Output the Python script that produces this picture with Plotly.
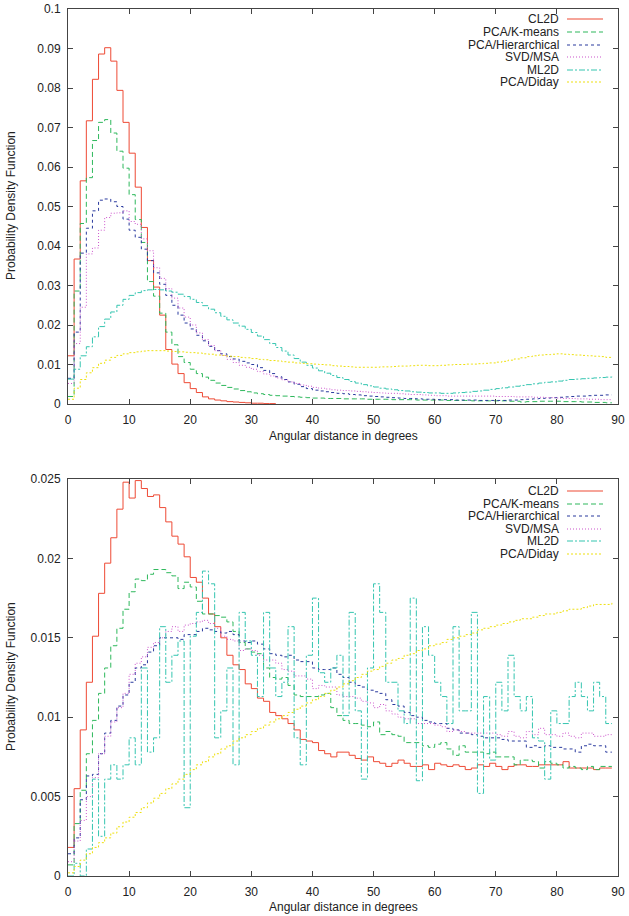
"""
Angular distance histograms (two panels), gnuplot-like step curves
"""
import plotly.graph_objects as go

# ---- data -------------------------------------------------------------
METHODS = ['CL2D', 'PCA/K-means', 'PCA/Hierarchical', 'SVD/MSA', 'ML2D', 'PCA/Diday']

# top panel (1 degree bins starting at 0)
top_cl2d = [0.0122, 0.0367, 0.0565, 0.0717, 0.0822, 0.0886, 0.0902, 0.0868, 0.0794, 0.0713,
            0.0635, 0.0549, 0.0447, 0.0363, 0.0296, 0.0225, 0.0138, 0.0101, 0.0077, 0.0054,
            0.0039, 0.0029, 0.0018, 0.0013, 0.0010, 0.0008, 0.0006, 0.0005, 0.0004, 0.0003,
            0.0002, 0.0002, 0.0001, 0.0001, 0.0001]
top_kmeans = [0.0019, 0.0286, 0.0457, 0.0573, 0.0667, 0.0713, 0.0720, 0.0686, 0.0640, 0.0597,
              0.0530, 0.0467, 0.0409, 0.0310, 0.0273, 0.0230, 0.0182, 0.0150, 0.0120, 0.0105,
              0.0088, 0.0077, 0.0068, 0.0060, 0.0053, 0.0047, 0.0042, 0.0038, 0.0034, 0.0031,
              0.0028, 0.0026, 0.0024, 0.0022, 0.0021, 0.0020, 0.0019, 0.0018, 0.0017, 0.0016,
              0.0015, 0.0015, 0.0014, 0.0014, 0.0014, 0.0013, 0.0013, 0.0013, 0.0013, 0.0012,
              0.0012, 0.0012, 0.0012, 0.0011, 0.0011, 0.0011, 0.0011, 0.0010, 0.0010, 0.0010,
              0.0010, 0.0010, 0.0009, 0.0009, 0.0009, 0.0009, 0.0008, 0.0008, 0.0008, 0.0008,
              0.0008, 0.0008, 0.0007, 0.0007, 0.0005, 0.0006, 0.0006, 0.0007, 0.0007, 0.0007,
              0.0007, 0.0006, 0.0006, 0.0006, 0.0005, 0.0005, 0.0004, 0.0004, 0.0003, 0.0003]
top_hier = [0.0065, 0.0182, 0.0382, 0.0445, 0.0489, 0.0516, 0.0519, 0.0512, 0.0500, 0.0468,
            0.0440, 0.0422, 0.0392, 0.0363, 0.0332, 0.0303, 0.0275, 0.0250, 0.0225, 0.0205,
            0.0190, 0.0174, 0.0160, 0.0146, 0.0135, 0.0127, 0.0120, 0.0114, 0.0108, 0.0104,
            0.0100, 0.0092, 0.0085, 0.0077, 0.0069, 0.0062, 0.0056, 0.0050, 0.0044, 0.0039,
            0.0035, 0.0033, 0.0031, 0.0029, 0.0027, 0.0026, 0.0024, 0.0023, 0.0021, 0.0020,
            0.0019, 0.0018, 0.0017, 0.0016, 0.0015, 0.0014, 0.0014, 0.0013, 0.0012, 0.0012,
            0.0011, 0.0011, 0.0011, 0.0010, 0.0010, 0.0010, 0.0010, 0.0009, 0.0009, 0.0009,
            0.0009, 0.0009, 0.0010, 0.0010, 0.0011, 0.0012, 0.0013, 0.0014, 0.0015, 0.0016,
            0.0017, 0.0018, 0.0019, 0.0020, 0.0020, 0.0021, 0.0022, 0.0022, 0.0023, 0.0023]
top_svd = [0.0052, 0.0153, 0.0245, 0.0380, 0.0395, 0.0440, 0.0472, 0.0483, 0.0484, 0.0489,
           0.0462, 0.0455, 0.0418, 0.0388, 0.0345, 0.0318, 0.0292, 0.0268, 0.0243, 0.0220,
           0.0200, 0.0180, 0.0163, 0.0148, 0.0135, 0.0123, 0.0113, 0.0105, 0.0098, 0.0093,
           0.0088, 0.0082, 0.0076, 0.0071, 0.0066, 0.0061, 0.0056, 0.0052, 0.0048, 0.0045,
           0.0042, 0.0040, 0.0038, 0.0036, 0.0035, 0.0034, 0.0033, 0.0032, 0.0031, 0.0030,
           0.0029, 0.0028, 0.0027, 0.0027, 0.0026, 0.0025, 0.0024, 0.0024, 0.0023, 0.0022,
           0.0021, 0.0021, 0.0020, 0.0020, 0.0020, 0.0020, 0.0020, 0.0020, 0.0020, 0.0020,
           0.0019, 0.0019, 0.0019, 0.0018, 0.0018, 0.0018, 0.0017, 0.0017, 0.0016, 0.0016,
           0.0015, 0.0014, 0.0014, 0.0013, 0.0013, 0.0012, 0.0012, 0.0011, 0.0011, 0.0010]
top_ml2d = [0.0063, 0.0088, 0.0122, 0.0145, 0.0170, 0.0196, 0.0215, 0.0233, 0.0250, 0.0265,
            0.0275, 0.0282, 0.0287, 0.0289, 0.0290, 0.0289, 0.0286, 0.0283, 0.0278, 0.0272,
            0.0265, 0.0257, 0.0249, 0.0240, 0.0231, 0.0222, 0.0213, 0.0205, 0.0197, 0.0189,
            0.0181, 0.0172, 0.0163, 0.0153, 0.0143, 0.0134, 0.0124, 0.0115, 0.0106, 0.0098,
            0.0091, 0.0084, 0.0078, 0.0072, 0.0067, 0.0062, 0.0057, 0.0053, 0.0049, 0.0046,
            0.0043, 0.0040, 0.0038, 0.0036, 0.0034, 0.0033, 0.0031, 0.0030, 0.0029, 0.0028,
            0.0028, 0.0027, 0.0027, 0.0028, 0.0029, 0.0030, 0.0032, 0.0033, 0.0035, 0.0037,
            0.0039, 0.0041, 0.0043, 0.0045, 0.0047, 0.0049, 0.0051, 0.0053, 0.0055, 0.0056,
            0.0058, 0.0060, 0.0062, 0.0063, 0.0064, 0.0065, 0.0066, 0.0067, 0.0068, 0.0069]
top_diday = [0.0012, 0.0040, 0.0062, 0.0079, 0.0092, 0.0103, 0.0111, 0.0118, 0.0123, 0.0127,
             0.0130, 0.0132, 0.0134, 0.0135, 0.0135, 0.0135, 0.0134, 0.0133, 0.0132, 0.0131,
             0.0130, 0.0129, 0.0127, 0.0126, 0.0124, 0.0123, 0.0121, 0.0120, 0.0118, 0.0117,
             0.0115, 0.0113, 0.0112, 0.0110, 0.0109, 0.0107, 0.0106, 0.0104, 0.0103, 0.0102,
             0.0101, 0.0100, 0.0099, 0.0097, 0.0096, 0.0095, 0.0094, 0.0093, 0.0093, 0.0093,
             0.0093, 0.0094, 0.0094, 0.0095, 0.0096, 0.0096, 0.0097, 0.0098, 0.0098, 0.0097,
             0.0097, 0.0098, 0.0099, 0.0100, 0.0100, 0.0101, 0.0101, 0.0102, 0.0103, 0.0104,
             0.0106, 0.0108, 0.0111, 0.0114, 0.0117, 0.0120, 0.0122, 0.0124, 0.0125, 0.0126,
             0.0127, 0.0126, 0.0125, 0.0124, 0.0123, 0.0122, 0.0121, 0.0120, 0.0118, 0.0116]

# bottom panel
bot_cl2d = [0.0018, 0.0055, 0.0092, 0.0122, 0.0151, 0.0178, 0.0197, 0.0213, 0.0231, 0.0248,
            0.0238, 0.0249, 0.0244, 0.0239, 0.0240, 0.0232, 0.0223, 0.0214, 0.0209, 0.0201,
            0.0188, 0.0185, 0.0175, 0.0165, 0.0157, 0.0150, 0.0139, 0.0133, 0.0130, 0.0121,
            0.0118, 0.0112, 0.0110, 0.0103, 0.0101, 0.0099, 0.0096, 0.0092, 0.0086, 0.0085,
            0.0084, 0.0079, 0.0077, 0.0075, 0.0078, 0.0078, 0.0076, 0.0074, 0.0073, 0.0075,
            0.0072, 0.0071, 0.0069, 0.0071, 0.0073, 0.0071, 0.0069, 0.0069, 0.0070, 0.0067,
            0.0071, 0.0070, 0.0069, 0.0070, 0.0069, 0.0067, 0.0068, 0.0070, 0.0069, 0.0071,
            0.0069, 0.0067, 0.0069, 0.0070, 0.0070, 0.0069, 0.0069, 0.0070, 0.0070, 0.0070,
            0.0070, 0.0072, 0.0068, 0.0068, 0.0068, 0.0068, 0.0067, 0.0068, 0.0068, 0.0068]
bot_kmeans = [0.0007, 0.0033, 0.0054, 0.0077, 0.0098, 0.0115, 0.0131, 0.0145, 0.0156, 0.0168,
              0.0179, 0.0187, 0.0186, 0.0190, 0.0193, 0.0193, 0.0191, 0.0189, 0.0181, 0.0185,
              0.0182, 0.0173, 0.0165, 0.0165, 0.0164, 0.0163, 0.0160, 0.0154, 0.0147, 0.0143,
              0.0141, 0.0140, 0.0131, 0.0125, 0.0124, 0.0125, 0.0120, 0.0114, 0.0113, 0.0113,
              0.0113, 0.0114, 0.0115, 0.0106, 0.0101, 0.0098, 0.0096, 0.0096, 0.0095, 0.0094,
              0.0097, 0.0089, 0.0091, 0.0089, 0.0088, 0.0084, 0.0084, 0.0084, 0.0082, 0.0081,
              0.0083, 0.0084, 0.0080, 0.0076, 0.0082, 0.0078, 0.0078, 0.0078, 0.0077, 0.0078,
              0.0075, 0.0075, 0.0075, 0.0070, 0.0073, 0.0073, 0.0072, 0.0068, 0.0072, 0.0071,
              0.0070, 0.0068, 0.0069, 0.0068, 0.0067, 0.0069, 0.0067, 0.0069, 0.0069, 0.0069]
bot_hier = [0.0014, 0.0024, 0.0048, 0.0063, 0.0064, 0.0077, 0.0090, 0.0098, 0.0107, 0.0114,
            0.0122, 0.0131, 0.0133, 0.0141, 0.0145, 0.0150, 0.0150, 0.0150, 0.0149, 0.0152,
            0.0152, 0.0154, 0.0156, 0.0155, 0.0154, 0.0153, 0.0154, 0.0152, 0.0148, 0.0147,
            0.0148, 0.0146, 0.0143, 0.0140, 0.0139, 0.0138, 0.0139, 0.0136, 0.0135, 0.0135,
            0.0131, 0.0130, 0.0130, 0.0131, 0.0127, 0.0125, 0.0122, 0.0120, 0.0119, 0.0117,
            0.0116, 0.0115, 0.0111, 0.0108, 0.0107, 0.0103, 0.0101, 0.0100, 0.0098, 0.0097,
            0.0096, 0.0096, 0.0093, 0.0092, 0.0090, 0.0090, 0.0089, 0.0088, 0.0087, 0.0087,
            0.0087, 0.0086, 0.0085, 0.0085, 0.0085, 0.0081, 0.0082, 0.0081, 0.0082, 0.0081,
            0.0081, 0.0080, 0.0080, 0.0078, 0.0082, 0.0083, 0.0082, 0.0082, 0.0078, 0.0078]
bot_svd = [0.0009, 0.0022, 0.0035, 0.0050, 0.0062, 0.0077, 0.0088, 0.0097, 0.0106, 0.0115,
           0.0127, 0.0134, 0.0138, 0.0144, 0.0147, 0.0150, 0.0154, 0.0157, 0.0154, 0.0158,
           0.0159, 0.0160, 0.0161, 0.0159, 0.0156, 0.0151, 0.0149, 0.0148, 0.0142, 0.0143,
           0.0142, 0.0139, 0.0136, 0.0136, 0.0134, 0.0130, 0.0129, 0.0126, 0.0126, 0.0124,
           0.0118, 0.0120, 0.0119, 0.0119, 0.0114, 0.0113, 0.0113, 0.0112, 0.0110, 0.0109,
           0.0106, 0.0108, 0.0104, 0.0102, 0.0100, 0.0099, 0.0099, 0.0096, 0.0096, 0.0096,
           0.0095, 0.0094, 0.0091, 0.0092, 0.0091, 0.0090, 0.0090, 0.0090, 0.0090, 0.0090,
           0.0089, 0.0088, 0.0091, 0.0088, 0.0087, 0.0091, 0.0089, 0.0093, 0.0089, 0.0089,
           0.0088, 0.0090, 0.0088, 0.0087, 0.0090, 0.0090, 0.0088, 0.0088, 0.0089, 0.0089]
bot_ml2d = [0.0000, 0.0008, 0.0000, 0.0017, 0.0061, 0.0025, 0.0061, 0.0070, 0.0061, 0.0070,
            0.0087, 0.0070, 0.0131, 0.0078, 0.0087, 0.0157, 0.0122, 0.0139, 0.0148, 0.0043,
            0.0151, 0.0166, 0.0192, 0.0184, 0.0087, 0.0104, 0.0131, 0.0070, 0.0166, 0.0148,
            0.0139, 0.0113, 0.0166, 0.0131, 0.0113, 0.0122, 0.0157, 0.0087, 0.0070, 0.0139,
            0.0175, 0.0128, 0.0122, 0.0131, 0.0139, 0.0101, 0.0166, 0.0104, 0.0061, 0.0131,
            0.0184, 0.0166, 0.0122, 0.0122, 0.0104, 0.0096, 0.0175, 0.0060, 0.0157, 0.0139,
            0.0122, 0.0113, 0.0096, 0.0157, 0.0104, 0.0104, 0.0166, 0.0052, 0.0113, 0.0073,
            0.0122, 0.0104, 0.0139, 0.0113, 0.0104, 0.0113, 0.0087, 0.0085, 0.0061, 0.0104,
            0.0096, 0.0096, 0.0113, 0.0122, 0.0113, 0.0104, 0.0122, 0.0113, 0.0096, 0.0096]
bot_diday = [0.0002, 0.0006, 0.0010, 0.0014, 0.0018, 0.0021, 0.0024, 0.0027, 0.0031, 0.0034,
             0.0037, 0.0040, 0.0043, 0.0046, 0.0049, 0.0052, 0.0055, 0.0058, 0.0061, 0.0064,
             0.0067, 0.0070, 0.0072, 0.0075, 0.0077, 0.0080, 0.0082, 0.0085, 0.0087, 0.0089,
             0.0091, 0.0093, 0.0095, 0.0097, 0.0099, 0.0101, 0.0103, 0.0105, 0.0107, 0.0109,
             0.0111, 0.0113, 0.0115, 0.0117, 0.0119, 0.0121, 0.0123, 0.0125, 0.0127, 0.0129,
             0.0130, 0.0132, 0.0134, 0.0136, 0.0137, 0.0139, 0.0140, 0.0142, 0.0143, 0.0145,
             0.0146, 0.0147, 0.0149, 0.0150, 0.0151, 0.0152, 0.0153, 0.0155, 0.0156, 0.0157,
             0.0158, 0.0159, 0.0160, 0.0161, 0.0162, 0.0162, 0.0163, 0.0164, 0.0165, 0.0165,
             0.0166, 0.0167, 0.0168, 0.0168, 0.0169, 0.0170, 0.0171, 0.0171, 0.0171, 0.0172]

x_ticks = [0, 10, 20, 30, 40, 50, 60, 70, 80, 90]
top_yticks = [0, 0.01, 0.02, 0.03, 0.04, 0.05, 0.06, 0.07, 0.08, 0.09, 0.1]
top_yticklabels = ['0', '0.01', '0.02', '0.03', '0.04', '0.05', '0.06', '0.07', '0.08', '0.09', '0.1']
bot_yticks = [0, 0.005, 0.01, 0.015, 0.02, 0.025]
bot_yticklabels = ['0', '0.005', '0.01', '0.015', '0.02', '0.025']

# ---- styles -----------------------------------------------------------
COLORS = ['#ee4a35', '#2eb85c', '#2a3a9e', '#cc55cc', '#35c5b0', '#eee010']
DASHES = ['solid', '5px,3px', '3px,3px', '1px,2px', '6px,2px,2px,2px', '2px,2px']
FONT = 'Liberation Sans, Arial, sans-serif'

# pixel geometry of the 629x916 page
W, H = 629, 916
L, R, T, B = 68, 11, 9, 40
PW, PH = W - L - R, H - T - B


def py(y):
    """pixel row -> paper y"""
    return (H - B - y) / PH


def px(x):
    """pixel column -> paper x"""
    return (x - L) / PW


fig = go.Figure()

panels = [
    ('x', 'y', [top_cl2d, top_kmeans, top_hier, top_svd, top_ml2d, top_diday]),
    ('x2', 'y2', [bot_cl2d, bot_kmeans, bot_hier, bot_svd, bot_ml2d, bot_diday]),
]
for xa, ya, series in panels:
    for name, vals, color, dash in zip(METHODS, series, COLORS, DASHES):
        fig.add_trace(go.Scatter(
            x=list(range(len(vals))),
            y=vals,
            mode='lines',
            name=name,
            line=dict(color=color, width=1, dash=dash, shape='hv'),
            xaxis=xa, yaxis=ya,
            showlegend=False,
            hoverinfo='skip'
        ))

axis_common = dict(
    showline=True, linecolor='#444', linewidth=1, mirror='ticks',
    ticks='inside', ticklen=5, tickcolor='#444', showgrid=False, zeroline=False,
    tickfont=dict(family=FONT, size=12, color='#222')
)
xaxis_common = dict(domain=[0, 1], range=[0, 90], tickvals=x_ticks,
                    ticklabelstandoff=5, **axis_common)

fig.update_layout(
    width=W, height=H,
    margin=dict(l=L, r=R, t=T, b=B, autoexpand=False),
    paper_bgcolor='white', plot_bgcolor='white',
    showlegend=False,
    xaxis=dict(anchor='y', **xaxis_common),
    yaxis=dict(domain=[py(404), 1], range=[0, 0.1], tickvals=top_yticks,
               ticktext=top_yticklabels, anchor='x', ticklabelstandoff=4, **axis_common),
    xaxis2=dict(anchor='y2', **xaxis_common),
    yaxis2=dict(domain=[0, py(479)], range=[0, 0.025], tickvals=bot_yticks,
                ticktext=bot_yticklabels, anchor='x2', ticklabelstandoff=4, **axis_common),
)

# 轴标题
for yc in (206, 677):
    fig.add_annotation(text='Probability Density Function', xref='paper', yref='paper',
                       x=px(11), y=py(yc), textangle=-90, showarrow=False,
                       xanchor='center', yanchor='middle',
                       font=dict(family=FONT, size=12, color='#222'))
for yc in (436, 907):
    fig.add_annotation(text='Angular distance in degrees', xref='paper', yref='paper',
                       x=px(343), y=py(yc), showarrow=False,
                       xanchor='center', yanchor='middle',
                       font=dict(family=FONT, size=12, color='#222'))

# gnuplot style key: right aligned text, line sample on the right
KEY_ROWS_TOP = [19, 32, 45, 57, 70, 82]
KEY_ROWS_BOT = [491, 504, 516, 529, 541, 554]
for rows in (KEY_ROWS_TOP, KEY_ROWS_BOT):
    for row, name, color, dash in zip(rows, METHODS, COLORS, DASHES):
        yy = py(row)
        fig.add_annotation(text=name, xref='paper', yref='paper', x=px(560), y=yy,
                           xanchor='right', yanchor='middle', showarrow=False, borderpad=0,
                           font=dict(family=FONT, size=12, color='#222'))
        fig.add_shape(type='line', xref='paper', yref='paper',
                      x0=px(567), x1=px(603), y0=yy, y1=yy,
                      line=dict(color=color, width=1.2, dash=dash))

# 去掉页面默认边距和工具栏，让图正好铺满窗口
fig.write_html("out.html", config={'displayModeBar': False},
               post_script="document.body.style.margin='0';document.body.style.overflow='hidden';")
